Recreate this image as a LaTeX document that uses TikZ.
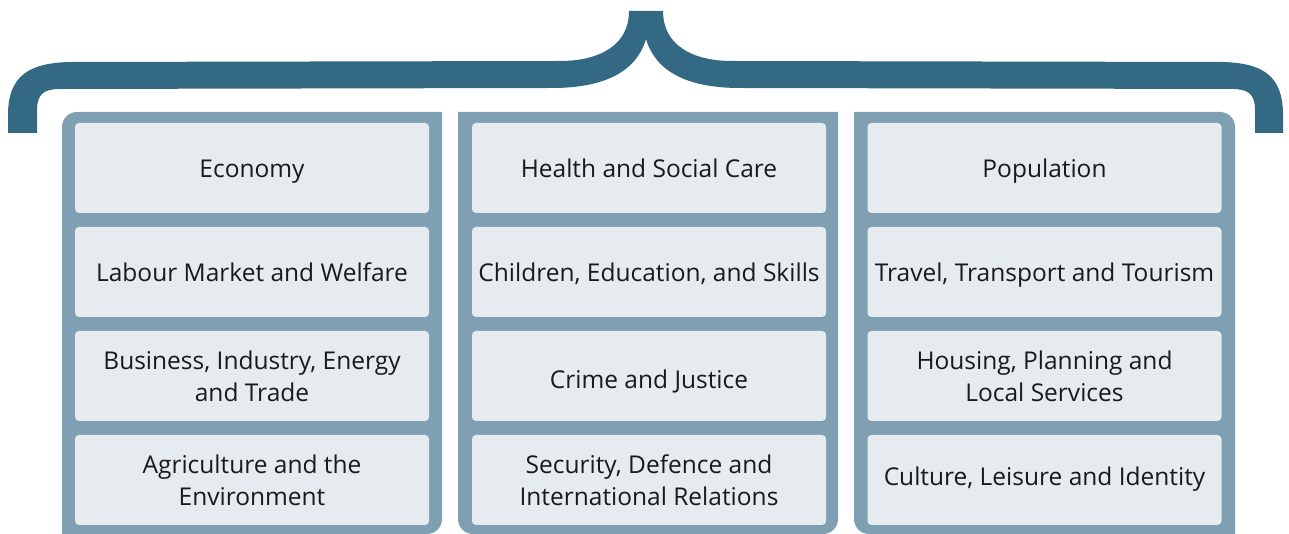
\documentclass[tikz,border=0pt]{standalone}
\usepackage{fontspec}
\setmainfont{Open Sans}
\definecolor{bracec}{HTML}{336983}
\definecolor{colc}{HTML}{7FA0B3}
\definecolor{boxc}{HTML}{E6EBF0}
\definecolor{txtc}{HTML}{1A1A1A}
\begin{document}
\begin{tikzpicture}[x=1pt,y=1pt,
  topic/.style={fill=boxc, rounded corners=4pt, minimum width=354pt, minimum height=90pt,
    inner sep=0pt, align=center, text=txtc,
    font=\fontsize{24.5}{32}\selectfont},
  single/.style={topic, text height=19pt, text depth=0pt}]
\useasboundingbox (0,0) rectangle (1289,534);
% brace
\fill[bracec] (8,401) -- (8,419) .. controls (8,459) and (30,471) .. (70,472)
  -- (560,473) .. controls (600,473) and (629,489) .. (629,523)
  -- (663,523) .. controls (663,489) and (692,473) .. (732,473)
  -- (1222,472) .. controls (1262,471) and (1283,459) .. (1283,419)
  -- (1283,401) -- (1255,401) -- (1255,424) .. controls (1255,440) and (1248,445) .. (1232,445)
  -- (740,446) .. controls (685,446) and (655,464) .. (646,495)
  .. controls (637,464) and (607,446) .. (552,446)
  -- (60,445) .. controls (44,445) and (37,440) .. (37,424)
  -- (37,401) -- cycle;
% columns
\fill[colc] (62,0) -- (62,407) arc[start angle=180,end angle=90,radius=15] -- (442,422)
  -- (442,15) arc[start angle=0,end angle=-90,radius=15] -- cycle;
\fill[colc] (458,15) -- (458,422) -- (838,422) -- (838,15)
  arc[start angle=0,end angle=-90,radius=15] -- (473,0)
  arc[start angle=270,end angle=180,radius=15] -- cycle;
\fill[colc] (854,15) -- (854,422) -- (1220,422) arc[start angle=90,end angle=0,radius=15]
  -- (1235,0) -- (869,0) arc[start angle=270,end angle=180,radius=15] -- cycle;
% boxes
\node[single] (a1) at (252,366) {Economy};
\node[single] (a2) at (252,262) {Labour Market and Welfare};
\node[topic] (a3) at (252,158) {Business, Industry, Energy\\and Trade};
\node[topic] (a4) at (252,54) {Agriculture and the\\Environment};
\node[single] (b1) at (649,366) {Health and Social Care};
\node[single] (b2) at (649,262) {Children, Education, and Skills};
\node[single, text height=25pt] (b3) at (649,158) {Crime and Justice};
\node[topic] (b4) at (649,54) {Security, Defence and\\International Relations};
\node[single] (c1) at (1044.5,366) {Population};
\node[single] (c2) at (1044.5,262) {Travel, Transport and Tourism};
\node[topic] (c3) at (1044.5,158) {Housing, Planning and\\Local Services};
\node[single, text height=11pt] (c4) at (1044.5,54) {Culture, Leisure and Identity};
\end{tikzpicture}
\end{document}
